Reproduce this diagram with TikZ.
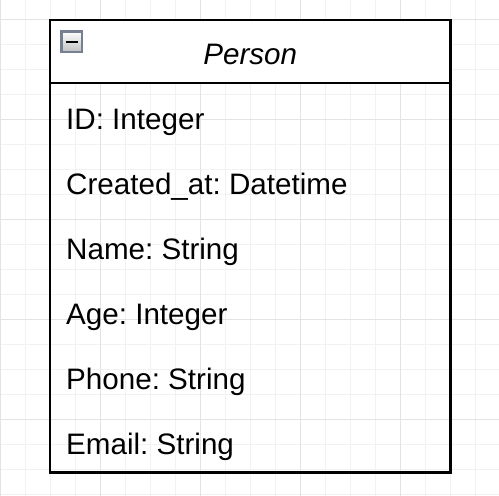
\documentclass[tikz,border=0pt]{standalone}
\usepackage{fontspec}
\setmainfont{Liberation Sans}
\frenchspacing
\usetikzlibrary{positioning}
\tikzset{
  minorgrid/.style={black!5, line width=1},
  majorgrid/.style={black!11, line width=1},
  classline/.style={black, line width=2.6},
  attr/.style={anchor=base west, inner sep=0pt, font=\fontsize{29.6}{35}\selectfont},
  title/.style={anchor=base, inner sep=0pt, font=\fontsize{29.6}{35}\selectfont\itshape},
}
\begin{document}
\begin{tikzpicture}[x=1pt,y=-1pt]
\useasboundingbox (0,0) rectangle (499,496);
%grid
\foreach \x in {25,50,...,475} {
\draw[minorgrid] (\x,0) -- (\x,496);
}
\foreach \y in {19,44,...,494} {
\draw[minorgrid] (0,\y) -- (499,\y);
}
\foreach \x in {0,100,...,400} {
\draw[majorgrid] (\x,0) -- (\x,496);
}
\foreach \y in {19,119,...,419} {
\draw[majorgrid] (0,\y) -- (499,\y);
}

%header
\fill[white] (50,20) rectangle (450.5,83);
\node[title] (person) at (250.25,64) {Person};

%collapse icon
\draw[line width=2.2, draw={rgb,255:red,118;green,128;blue,145}, top color=white, bottom color=black!25] (61.5,31.5) rectangle (82,52);
\draw[line width=2.4] (65.5,41.8) -- (78,41.8);

%attributes
\foreach \t [count=\i from 0] in {ID: Integer, Created\_at: Datetime, Name: String, Age: Integer, Phone: String, Email: String} {
\node[attr] (row\i) at (66,129.5+64.9*\i) {\t};
}

%box
\draw[classline] (50,20) rectangle (450.5,472.5);
\draw[classline] (50,83) -- (450.5,83);
\end{tikzpicture}
\end{document}
